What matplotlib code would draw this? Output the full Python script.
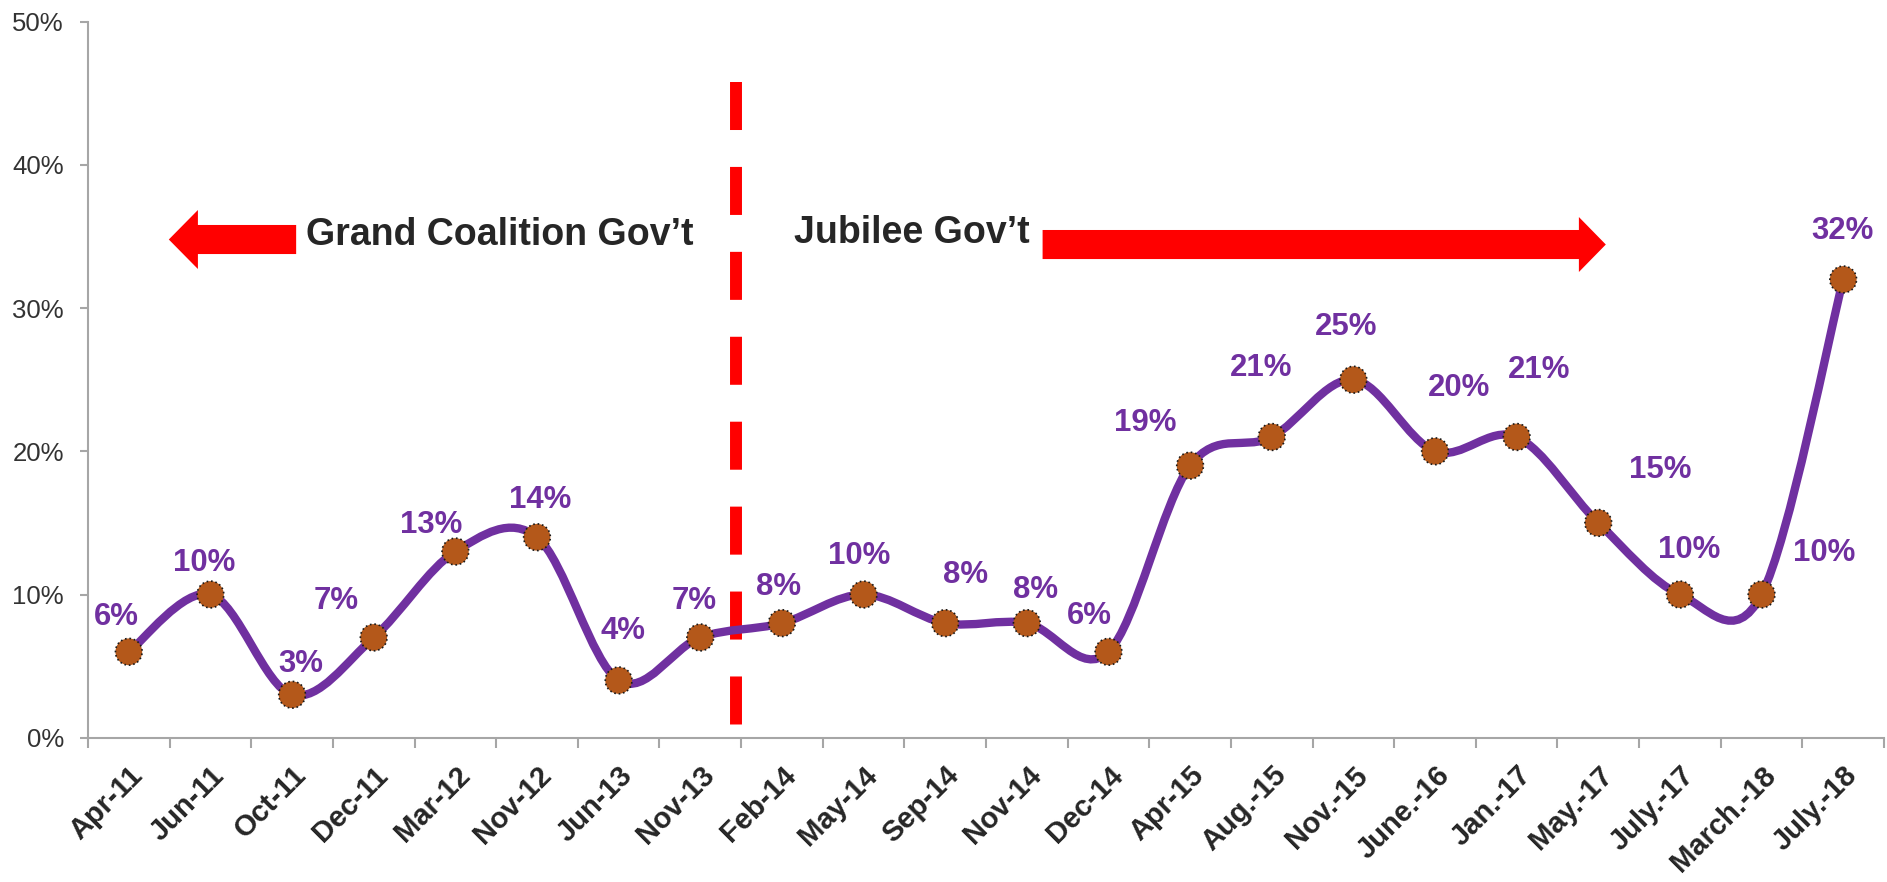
import numpy as np
import matplotlib.pyplot as plt
from matplotlib.path import Path
from matplotlib.patches import PathPatch, Polygon
from matplotlib.transforms import ScaledTranslation

plt.rcParams['font.family'] = ['Liberation Sans', 'DejaVu Sans']

months = ["Apr-11", "Jun-11", "Oct-11", "Dec-11", "Mar-12", "Nov-12", "Jun-13",
          "Nov-13", "Feb-14", "May-14", "Sep-14", "Nov-14", "Dec-14", "Apr-15",
          "Aug.-15", "Nov.-15", "June.-16", "Jan.-17", "May.-17", "July.-17",
          "March.-18", "July.-18"]
rates = [6, 10, 3, 7, 13, 14, 4, 7, 8, 10, 8, 8, 6, 19, 21, 25, 20, 21, 15, 10, 10, 32]

# where each value label sits relative to its point (pixels, label centre)
label_dx = [-12.6, -6.2, 9.2, -37.5, -24.0, 2.7, 4.5, -6.5, -3.1, -4.8, 20.1,
            8.9, -19.3, -44.5, -10.3, -7.7, 24.5, 22.2, 62.4, 9.3, 62.3, -0.3]
label_dy = [38.1, 34.5, 34.1, 39.0, 29.4, 40.7, 52.0, 39.4, 39.5, 41.7, 51.6,
            36.6, 38.4, 45.7, 72.0, 56.0, 66.7, 70.0, 56.0, 47.6, 44.3, 51.3]

purple = '#7030A0'
grey = '#A6A6A6'
txt = '#262626'

fig = plt.figure(figsize=(18.87, 8.82), dpi=100)
ax = fig.add_axes([0.04663, 0.1636, 0.9518, 0.8118])

x = np.arange(len(rates))
y = np.array(rates, dtype=float)
n = len(x)

# excel style smoothed line (bezier through the points)
verts = [(x[0], y[0])]
codes = [Path.MOVETO]
for i in range(n - 1):
    a = max(i - 1, 0)
    b = min(i + 2, n - 1)
    c1 = (x[i] + (x[i + 1] - x[a]) / 6, y[i] + (y[i + 1] - y[a]) / 6)
    c2 = (x[i + 1] - (x[b] - x[i]) / 6, y[i + 1] - (y[b] - y[i]) / 6)
    verts += [c1, c2, (x[i + 1], y[i + 1])]
    codes += [Path.CURVE4] * 3
ax.add_patch(PathPatch(Path(verts, codes), fill=False, edgecolor=purple,
                       lw=6, capstyle='round', zorder=3))

ax.scatter(x, y, s=370, c='#B4581A', edgecolors='#1a1a1a', linewidths=1.2,
           linestyles=':', zorder=4)

for xi, yi, dx, dy in zip(x, rates, label_dx, label_dy):
    ax.annotate(f'{yi}%', (xi, yi), xytext=(dx, dy - 11), textcoords='offset pixels',
                ha='center', va='baseline', fontsize=22.4, fontweight='bold',
                color=purple, zorder=5)

# government change marker
ax.plot([7.435, 7.435], [45.8, 0.75], color='#FF0000', lw=8.6,
        dashes=(4.02, 3.09), dash_capstyle='butt', zorder=2)

left_arrow = [(0.045, 0.6958), (0.0612, 0.6958 + 0.0412), (0.0612, 0.6958 + 0.0203),
              (0.1159, 0.6958 + 0.0203), (0.1159, 0.6958 - 0.0203),
              (0.0612, 0.6958 - 0.0203), (0.0612, 0.6958 - 0.0412)]
right_arrow = [(0.8451, 0.6888), (0.8301, 0.6888 + 0.0384), (0.8301, 0.6888 + 0.0203),
               (0.5315, 0.6888 + 0.0203), (0.5315, 0.6888 - 0.0203),
               (0.8301, 0.6888 - 0.0203), (0.8301, 0.6888 - 0.0384)]
for pts in (left_arrow, right_arrow):
    ax.add_patch(Polygon(pts, closed=True, facecolor='#FF0000', edgecolor='none',
                         transform=ax.transAxes, zorder=2))

ax.text(0.1214, 0.6881, 'Grand Coalition Gov\u2019t', transform=ax.transAxes,
        fontsize=27, fontweight='bold', color=txt, ha='left', va='baseline')
ax.text(0.3931, 0.6910, 'Jubilee Gov\u2019t', transform=ax.transAxes,
        fontsize=27, fontweight='bold', color=txt, ha='left', va='baseline')

ax.set_xlim(-0.5, n - 0.5)
ax.set_ylim(0, 50)
ax.set_yticks(range(0, 51, 10))
ax.set_yticklabels([f'{v}%' for v in range(0, 51, 10)])

ax.set_xticks(np.arange(-0.5, n, 1))
ax.set_xticklabels([''] * len(np.arange(-0.5, n, 1)))
ax.set_xticks(x, minor=True)
ax.set_xticklabels(months, minor=True, rotation=45, ha='right', va='top',
                   rotation_mode='anchor', fontsize=21, fontweight='bold', color=txt)
shift = ScaledTranslation(-11.7 / 100, 0, fig.dpi_scale_trans)
for lab in ax.xaxis.get_minorticklabels():
    lab.set_transform(lab.get_transform() + shift)
ax.tick_params(axis='x', which='major', length=7.2, width=1.5, color=grey)
ax.tick_params(axis='x', which='minor', length=0, pad=16.8)
ax.tick_params(axis='y', length=5.8, width=1.5, color=grey, pad=11.5,
               labelsize=18.5, labelcolor='#333333')

for s in ['top', 'right']:
    ax.spines[s].set_visible(False)
for s in ['left', 'bottom']:
    ax.spines[s].set_color(grey)
    ax.spines[s].set_linewidth(1.5)

fig.savefig('out.png', dpi=100)
